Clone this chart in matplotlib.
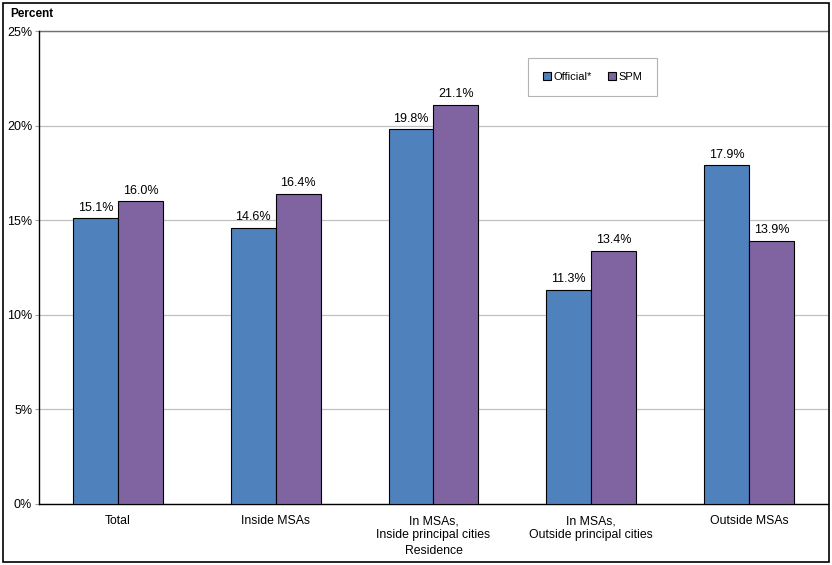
import matplotlib
matplotlib.use("Agg")
import matplotlib.pyplot as plt
import numpy as np
from matplotlib.patches import Rectangle

plt.rcParams['font.family'] = ['Liberation Sans', 'DejaVu Sans']

categories = ['Total', 'Inside MSAs', 'In MSAs,\nInside principal cities',
              'In MSAs,\nOutside principal cities', 'Outside MSAs']
official = [15.1, 14.6, 19.8, 11.3, 17.9]
spm = [16.0, 16.4, 21.1, 13.4, 13.9]
yticks = [0, 5, 10, 15, 20, 25]

blue = '#4F81BD'
purple = '#8064A2'

fig = plt.figure(figsize=(8.32, 5.65), dpi=100)
ax = fig.add_axes([0.047, 0.108, 0.948, 0.837])

x = np.arange(len(categories))
w = 0.285
b1 = ax.bar(x - w / 2, official, w, color=blue, edgecolor='black', linewidth=0.8,
            label='Official*', zorder=3)
b2 = ax.bar(x + w / 2, spm, w, color=purple, edgecolor='black', linewidth=0.8,
            label='SPM', zorder=3)

for bars, vals in ((b1, official), (b2, spm)):
    for r, v in zip(bars, vals):
        ax.text(r.get_x() + r.get_width() / 2, v + 0.25, f'{v:.1f}%',
                ha='center', va='bottom', fontsize=9)

ax.set_xlim(-0.5, len(categories) - 0.5)
ax.set_ylim(0, 25)
ax.set_yticks(yticks)
ax.set_yticklabels([f'{t}%' for t in yticks], fontsize=9)
ax.set_xticks(x)
ax.set_xticklabels(categories, fontsize=8.8)
ax.tick_params(axis='x', length=0, pad=8)
ax.tick_params(axis='y', length=3, color='#a0a0a0', pad=2)
ax.yaxis.grid(True, color='#c0c0c0', linewidth=0.9, zorder=0)
ax.set_axisbelow(True)
for s in ('top', 'right'):
    ax.spines[s].set_visible(False)
ax.spines['left'].set_linewidth(1.0)
ax.spines['bottom'].set_linewidth(1.0)
ax.axhline(25, color='#707070', linewidth=1.0, zorder=1, clip_on=False)

ax.set_xlabel('Residence', fontsize=8.8, labelpad=3)
fig.text(0.012, 0.975, 'Percent', fontsize=8.5, fontweight='bold', va='center')

leg = ax.legend(loc='center', bbox_to_anchor=(0.702, 0.903), ncol=2, fontsize=8,
                frameon=True, fancybox=False, edgecolor='#a0a0a0', handlelength=0.7,
                handleheight=0.7, handletextpad=0.3, columnspacing=1.4,
                borderpad=1.3)
leg.get_frame().set_linewidth(0.8)

fig.patches.append(Rectangle((0.004, 0.005), 0.992, 0.99, transform=fig.transFigure,
                             fill=False, edgecolor='black', linewidth=1.2))

fig.savefig('out.png', dpi=100)
